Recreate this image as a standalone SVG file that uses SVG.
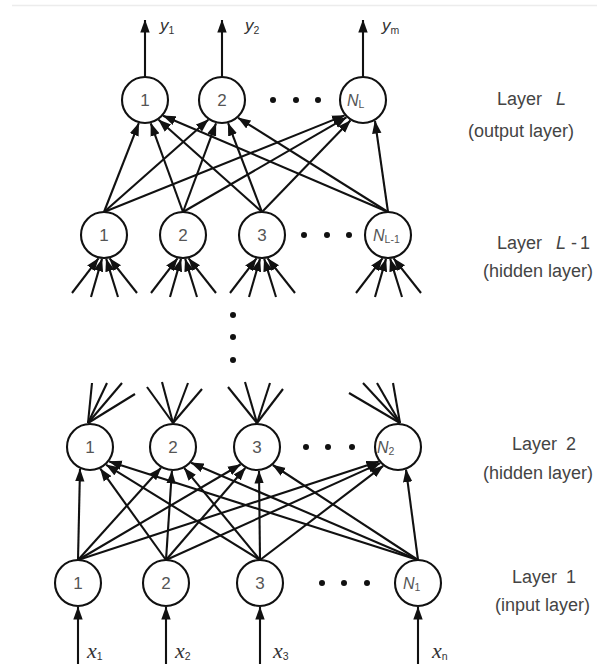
<svg xmlns="http://www.w3.org/2000/svg" xmlns:xlink="http://www.w3.org/1999/xlink" width="597" height="664" viewBox="0 0 597 664">
  <style>
    .edge { stroke: #111; stroke-width: 2.1; fill: none; }
    .arrow { marker-end: url(#head); }
    .node circle { fill: #fff; stroke: #111; stroke-width: 2.1; }
    .num { font-family: "Liberation Sans", Arial, sans-serif; font-size: 17px; fill: #555; text-anchor: middle; }
    .nlab { font-family: "Liberation Sans", Arial, sans-serif; font-size: 16px; fill: #555; font-style: italic; }
    .sub { font-size: 10.5px; font-style: normal; }
    .dot { fill: #111; }
    .layer { font-family: "Liberation Sans", Arial, sans-serif; font-size: 18px; fill: #444; }
    .ylab { font-family: "Liberation Sans", Arial, sans-serif; font-size: 17px; font-style: italic; fill: #333; }
    .xlab { font-family: "Liberation Serif", "Times New Roman", serif; font-size: 22px; font-style: italic; fill: #333; }
  </style>
  <defs>
    <marker id="head" markerUnits="userSpaceOnUse" markerWidth="13" markerHeight="10" viewBox="0 0 13 10" refX="12.5" refY="5" orient="auto">
      <path d="M0,0.3 L13,5 L0,9.7 Z" fill="#111"/>
    </marker>
    <!-- four incoming links drawn below a node, relative to its centre -->
    <g id="fanIn">
      <line class="edge arrow" x1="-32" y1="58" x2="-5.5" y2="23.4"/>
      <line class="edge arrow" x1="-13" y1="62" x2="-2" y2="23.9"/>
      <line class="edge arrow" x1="14" y1="62" x2="2.2" y2="23.9"/>
      <line class="edge arrow" x1="33" y1="58" x2="5.6" y2="23.4"/>
    </g>
  </defs>

  <rect width="597" height="664" fill="#fff"/>
  <line x1="12" y1="5.5" x2="597" y2="5.5" stroke="#ececec" stroke-width="1.5"/>

  <g id="connectors">
    <!-- outputs -->
    <line class="edge arrow" x1="145" y1="77" x2="145" y2="20"/>
    <line class="edge arrow" x1="222" y1="77" x2="222" y2="20"/>
    <line class="edge arrow" x1="363" y1="77" x2="363" y2="20"/>

    <!-- layer L-1 to layer L -->
    <line class="edge arrow" x1="104" y1="212" x2="138.8" y2="123.2"/>
    <line class="edge arrow" x1="104" y1="212" x2="208.3" y2="119.7"/>
    <line class="edge arrow" x1="104" y1="212" x2="344.6" y2="115.4"/>
    <line class="edge arrow" x1="183" y1="212" x2="150.8" y2="123.3"/>
    <line class="edge arrow" x1="183" y1="212" x2="216" y2="123.3"/>
    <line class="edge arrow" x1="183" y1="212" x2="346.4" y2="117.4"/>
    <line class="edge arrow" x1="262" y1="212" x2="158.6" y2="119.8"/>
    <line class="edge arrow" x1="262" y1="212" x2="228.1" y2="123.2"/>
    <line class="edge arrow" x1="262" y1="212" x2="350.4" y2="120.5"/>
    <line class="edge arrow" x1="388" y1="212" x2="163.1" y2="115.7"/>
    <line class="edge arrow" x1="388" y1="212" x2="238.1" y2="117.8"/>
    <line class="edge arrow" x1="388" y1="212" x2="375" y2="121"/>

    <!-- links coming into layer L-1 -->
    <use xlink:href="#fanIn" x="104" y="235"/>
    <use xlink:href="#fanIn" x="183" y="235"/>
    <use xlink:href="#fanIn" x="262" y="235"/>
    <use xlink:href="#fanIn" x="388" y="235"/>

    <!-- links leaving layer 2 -->
    <line class="edge" x1="88" y1="423" x2="92" y2="383"/>
    <line class="edge" x1="88" y1="423" x2="107" y2="383"/>
    <line class="edge" x1="88" y1="423" x2="122" y2="383"/>
    <line class="edge" x1="88" y1="423" x2="135" y2="394"/>
    <line class="edge" x1="173" y1="423" x2="147" y2="387"/>
    <line class="edge" x1="173" y1="423" x2="162" y2="382"/>
    <line class="edge" x1="173" y1="423" x2="188" y2="383"/>
    <line class="edge" x1="173" y1="423" x2="202" y2="389"/>
    <line class="edge" x1="257" y1="423" x2="228" y2="387"/>
    <line class="edge" x1="257" y1="423" x2="245" y2="382"/>
    <line class="edge" x1="257" y1="423" x2="270" y2="383"/>
    <line class="edge" x1="257" y1="423" x2="283" y2="389"/>
    <line class="edge" x1="400" y1="423" x2="349" y2="393"/>
    <line class="edge" x1="400" y1="423" x2="363" y2="383"/>
    <line class="edge" x1="400" y1="423" x2="377" y2="383"/>
    <line class="edge" x1="400" y1="423" x2="393" y2="383"/>

    <!-- layer 1 to layer 2 -->
    <line class="edge arrow" x1="78" y1="560" x2="80" y2="469"/>
    <line class="edge arrow" x1="78" y1="560" x2="161" y2="467.8"/>
    <line class="edge arrow" x1="78" y1="560" x2="240.5" y2="464.5"/>
    <line class="edge arrow" x1="78" y1="560" x2="378.8" y2="461.5"/>
    <line class="edge arrow" x1="166" y1="560" x2="100.3" y2="468.7"/>
    <line class="edge arrow" x1="166" y1="560" x2="171.9" y2="471"/>
    <line class="edge arrow" x1="166" y1="560" x2="245.3" y2="468"/>
    <line class="edge arrow" x1="166" y1="560" x2="380.2" y2="463.1"/>
    <line class="edge arrow" x1="260" y1="560" x2="106.2" y2="464.8"/>
    <line class="edge arrow" x1="260" y1="560" x2="184.3" y2="468.1"/>
    <line class="edge arrow" x1="260" y1="560" x2="259" y2="471"/>
    <line class="edge arrow" x1="260" y1="560" x2="383.2" y2="465.9"/>
    <line class="edge arrow" x1="418" y1="560" x2="109.2" y2="461.4"/>
    <line class="edge arrow" x1="418" y1="560" x2="191.1" y2="462.8"/>
    <line class="edge arrow" x1="418" y1="560" x2="272.8" y2="465"/>
    <line class="edge arrow" x1="418" y1="560" x2="406" y2="469.6"/>

    <!-- inputs -->
    <line class="edge arrow" x1="78" y1="664" x2="78" y2="607"/>
    <line class="edge arrow" x1="166" y1="664" x2="166" y2="607"/>
    <line class="edge arrow" x1="260" y1="664" x2="260" y2="607"/>
    <line class="edge arrow" x1="418" y1="664" x2="418" y2="607"/>
  </g>

  <!-- layer L -->
  <g id="nodeL1" class="node"><circle cx="145" cy="100" r="23"/><text class="num" x="145" y="106">1</text></g>
  <g id="nodeL2" class="node"><circle cx="222" cy="100" r="23"/><text class="num" x="222" y="106">2</text></g>
  <g id="nodeLN" class="node"><circle cx="363" cy="100" r="23"/><text class="nlab" x="347" y="106">N<tspan class="sub" dy="2">L</tspan></text></g>

  <!-- layer L-1 -->
  <g id="nodeH1" class="node"><circle cx="104" cy="235" r="23"/><text class="num" x="104" y="241">1</text></g>
  <g id="nodeH2" class="node"><circle cx="183" cy="235" r="23"/><text class="num" x="183" y="241">2</text></g>
  <g id="nodeH3" class="node"><circle cx="262" cy="235" r="23"/><text class="num" x="262" y="241">3</text></g>
  <g id="nodeHN" class="node"><circle cx="388" cy="235" r="23"/><text class="nlab" x="373" y="241">N<tspan class="sub" dy="2">L-1</tspan></text></g>

  <!-- layer 2 -->
  <g id="node21" class="node"><circle cx="90" cy="447" r="23"/><text class="num" x="90" y="453">1</text></g>
  <g id="node22" class="node"><circle cx="173" cy="447" r="23"/><text class="num" x="173" y="453">2</text></g>
  <g id="node23" class="node"><circle cx="257" cy="447" r="23"/><text class="num" x="257" y="453">3</text></g>
  <g id="node2N" class="node"><circle cx="398" cy="447" r="23"/><text class="nlab" x="377" y="453">N<tspan class="sub" dy="2">2</tspan></text></g>

  <!-- layer 1 -->
  <g id="node11" class="node"><circle cx="78" cy="583" r="23"/><text class="num" x="78" y="589">1</text></g>
  <g id="node12" class="node"><circle cx="166" cy="583" r="23"/><text class="num" x="166" y="589">2</text></g>
  <g id="node13" class="node"><circle cx="260" cy="583" r="23"/><text class="num" x="260" y="589">3</text></g>
  <g id="node1N" class="node"><circle cx="418" cy="583" r="23"/><text class="nlab" x="403" y="589">N<tspan class="sub" dy="2">1</tspan></text></g>

  <!-- ellipses -->
  <g id="ellipses">
    <circle class="dot" cx="273" cy="100" r="3"/><circle class="dot" cx="296" cy="100" r="3"/><circle class="dot" cx="318" cy="100" r="3"/>
    <circle class="dot" cx="304" cy="235" r="3"/><circle class="dot" cx="327" cy="235" r="3"/><circle class="dot" cx="349" cy="235" r="3"/>
    <circle class="dot" cx="306" cy="447" r="3"/><circle class="dot" cx="328" cy="447" r="3"/><circle class="dot" cx="352" cy="447" r="3"/>
    <circle class="dot" cx="322" cy="583" r="3"/><circle class="dot" cx="344" cy="583" r="3"/><circle class="dot" cx="367" cy="583" r="3"/>
    <circle class="dot" cx="233" cy="315" r="3"/><circle class="dot" cx="233" cy="337" r="3"/><circle class="dot" cx="233" cy="360" r="3"/>
  </g>

  <!-- output and input labels -->
  <g id="outputs">
    <text class="ylab" x="160" y="31">y<tspan class="sub" dy="3">1</tspan></text>
    <text class="ylab" x="245" y="31">y<tspan class="sub" dy="3">2</tspan></text>
    <text class="ylab" x="382" y="31">y<tspan class="sub" dy="3">m</tspan></text>
  </g>
  <g id="inputs">
    <text class="xlab" x="87" y="658">x<tspan class="sub" font-family="Liberation Sans, sans-serif" dy="2">1</tspan></text>
    <text class="xlab" x="175" y="658">x<tspan class="sub" font-family="Liberation Sans, sans-serif" dy="2">2</tspan></text>
    <text class="xlab" x="273" y="658">x<tspan class="sub" font-family="Liberation Sans, sans-serif" dy="2">3</tspan></text>
    <text class="xlab" x="432" y="658">x<tspan class="sub" font-family="Liberation Sans, sans-serif" dy="2">n</tspan></text>
  </g>

  <!-- layer captions -->
  <g id="captions" class="layer">
    <text x="497" y="105">Layer<tspan x="556" font-style="italic">L</tspan></text>
    <text x="468" y="137">(output layer)</text>
    <text x="497" y="249">Layer<tspan x="556" font-style="italic">L</tspan><tspan x="571">-</tspan><tspan x="580">1</tspan></text>
    <text x="483" y="277">(hidden layer)</text>
    <text x="512" y="450">Layer<tspan x="566">2</tspan></text>
    <text x="483" y="479">(hidden layer)</text>
    <text x="512" y="583">Layer<tspan x="566">1</tspan></text>
    <text x="495" y="611">(input layer)</text>
  </g>
</svg>
